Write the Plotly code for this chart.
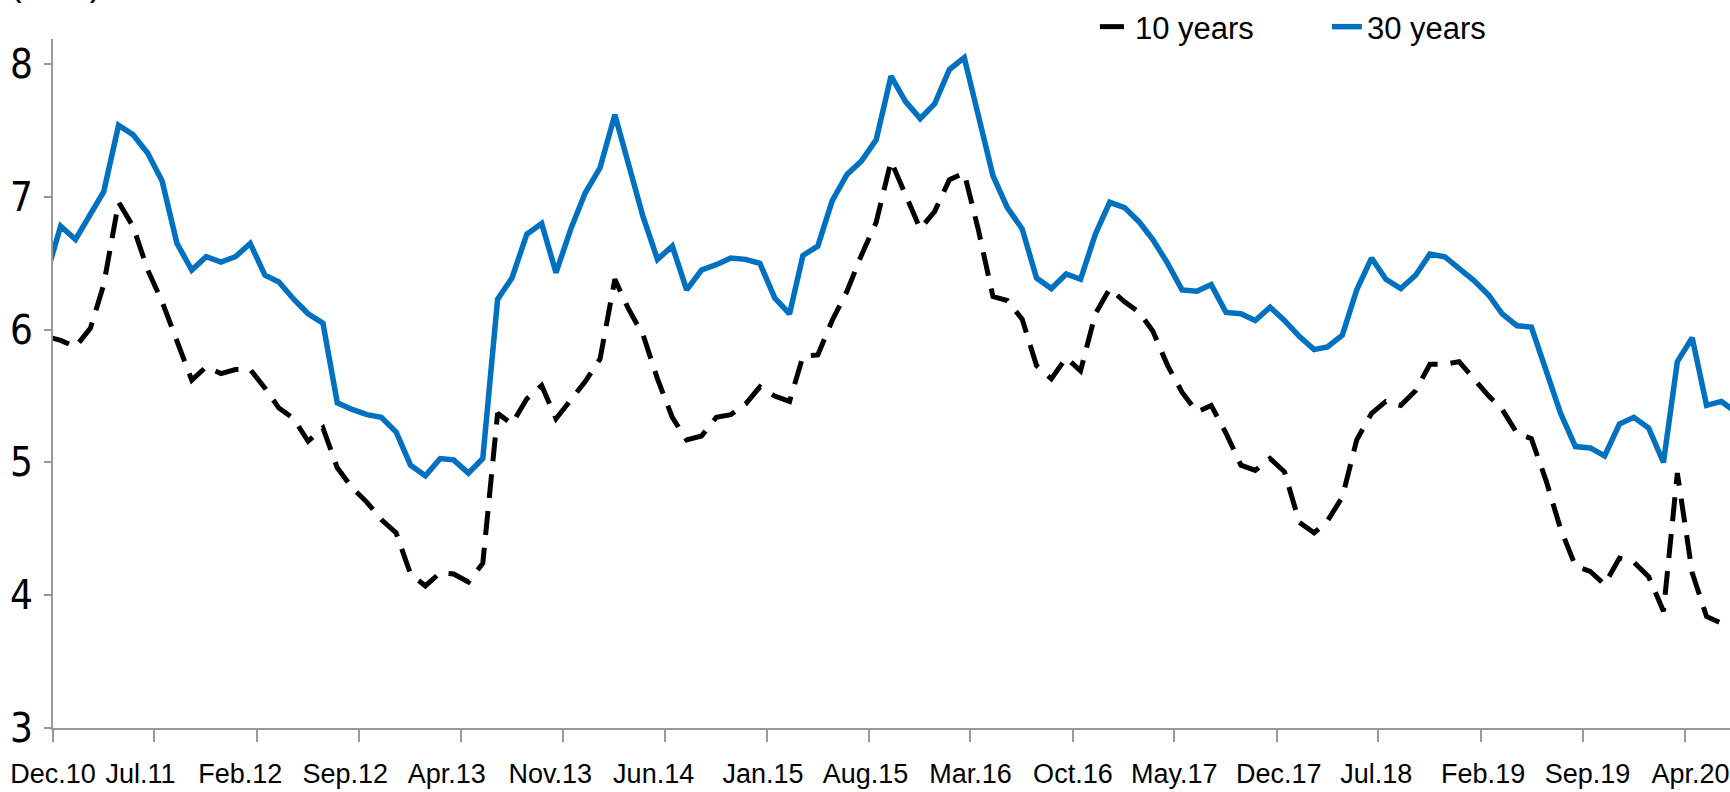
import pandas as pd
import plotly.graph_objects as go

# ---------------- data (monthly, Nov.10 .. Jul.20) ----------------
months = pd.date_range("2010-11-01", periods=117, freq="MS")

yield_10y = [
    5.95,
    5.92, 5.87, 6.01, 6.34, 6.96, 6.78, 6.45, 6.21, 5.91, 5.62,
    5.72, 5.67, 5.70, 5.70, 5.56, 5.41, 5.33, 5.16, 5.26, 4.96,
    4.81, 4.70, 4.57, 4.47, 4.16, 4.07, 4.17, 4.16, 4.10, 4.24,
    5.37, 5.29, 5.48, 5.58, 5.33, 5.47, 5.61, 5.78, 6.38, 6.16,
    5.96, 5.63, 5.34, 5.17, 5.20, 5.34, 5.36, 5.44, 5.57, 5.50,
    5.46, 5.80, 5.81, 6.07, 6.29, 6.56, 6.81, 7.27, 7.01, 6.76,
    6.89, 7.13, 7.18, 6.76, 6.25, 6.22, 6.08, 5.73, 5.63, 5.79,
    5.69, 6.12, 6.31, 6.21, 6.13, 5.99, 5.73, 5.53, 5.38, 5.43,
    5.22, 4.98, 4.94, 5.03, 4.93, 4.55, 4.47, 4.56, 4.74, 5.17,
    5.37, 5.46, 5.43, 5.54, 5.74, 5.74, 5.76, 5.63, 5.50, 5.40,
    5.22, 5.18, 4.86, 4.50, 4.22, 4.18, 4.08, 4.28, 4.25, 4.14,
    3.88, 4.92, 4.17, 3.84, 3.79, 3.76,
]

yield_30y = [
    6.41,
    6.78, 6.68, 6.86, 7.04, 7.54, 7.47, 7.33, 7.12, 6.65, 6.45,
    6.55, 6.51, 6.55, 6.65, 6.41, 6.36, 6.23, 6.12, 6.05, 5.45,
    5.40, 5.36, 5.34, 5.23, 4.98, 4.90, 5.03, 5.02, 4.92, 5.03,
    6.23, 6.39, 6.72, 6.80, 6.43, 6.76, 7.03, 7.22, 7.62, 7.27,
    6.85, 6.53, 6.63, 6.30, 6.45, 6.49, 6.54, 6.53, 6.50, 6.24,
    6.12, 6.56, 6.63, 6.97, 7.17, 7.27, 7.43, 7.91, 7.72, 7.59,
    7.70, 7.96, 8.05, 7.62, 7.16, 6.92, 6.76, 6.39, 6.31, 6.42,
    6.38, 6.72, 6.96, 6.92, 6.81, 6.68, 6.50, 6.30, 6.29, 6.34,
    6.13, 6.12, 6.07, 6.17, 6.07, 5.95, 5.85, 5.87, 5.96, 6.30,
    6.54, 6.38, 6.31, 6.41, 6.57, 6.55, 6.46, 6.37, 6.26, 6.12,
    6.03, 6.02, 5.69, 5.37, 5.12, 5.11, 5.05, 5.29, 5.34, 5.26,
    5.00, 5.76, 5.94, 5.43, 5.46, 5.38,
]

tick_labels = ["Dec.10", "Jul.11", "Feb.12", "Sep.12", "Apr.13", "Nov.13",
               "Jun.14", "Jan.15", "Aug.15", "Mar.16", "Oct.16", "May.17",
               "Dec.17", "Jul.18", "Feb.19", "Sep.19", "Apr.20"]
tick_dates = pd.date_range("2010-12-01", periods=len(tick_labels), freq="7MS")

y_ticks = [3, 4, 5, 6, 7, 8]

# ---------------- layout helpers ----------------
x_plot = months + pd.Timedelta(days=16)          # values plotted mid-month
x_range = ["2010-12-01", "2020-07-05"]
px_per_day = 1677 / (pd.Timestamp(x_range[1]) - pd.Timestamp(x_range[0])).days
label_shift_px = [0, -14, -17, -14, -14, -13, -11, -4, -3, 0, 0, 0, 2, -2, 2, 5, 6]
label_pos = [(d + pd.Timedelta(days=s / px_per_day)).strftime("%Y-%m-%d %H:%M")
             for d, s in zip(tick_dates, label_shift_px)]

FONT = "Liberation Sans, Arial, sans-serif"
NARROW = "Liberation Sans Narrow, Arial Narrow, DejaVu Sans Condensed, Liberation Sans, sans-serif"
AXIS_GREY = "#999999"

fig = go.Figure()
fig.add_trace(go.Scatter(
    x=x_plot, y=yield_10y, name="10 years", mode="lines",
    line=dict(color="#000000", width=5, dash="24px,13px"),
))
fig.add_trace(go.Scatter(
    x=x_plot, y=yield_30y, name="30 years", mode="lines",
    line=dict(color="#0070C0", width=5.5),
))
# invisible carrier so the label axis (x2) is rendered
fig.add_trace(go.Scatter(
    x=x_plot, y=yield_30y, xaxis="x2", yaxis="y", mode="lines",
    line=dict(width=0, color="rgba(0,0,0,0)"), showlegend=False, hoverinfo="skip",
))

fig.update_layout(
    width=1730, height=792,
    margin=dict(l=53, r=0, t=33, b=64),
    paper_bgcolor="white", plot_bgcolor="white",
    font=dict(family=FONT, color="#000000"),
    showlegend=True,
    legend=dict(
        orientation="h", x=0.6213, xanchor="left", y=1.018, yanchor="middle",
        font=dict(family=FONT, size=31, color="#000000"),
        entrywidth=187, entrywidthmode="pixels",
        bgcolor="rgba(0,0,0,0)", borderwidth=0,
    ),
    xaxis=dict(
        type="date", range=x_range, showgrid=False, zeroline=False,
        showline=True, linecolor=AXIS_GREY, linewidth=2,
        ticks="outside", ticklen=12, tickwidth=2, tickcolor=AXIS_GREY,
        tickmode="array", tickvals=list(tick_dates), showticklabels=False,
    ),
    xaxis2=dict(
        type="date", range=x_range, overlaying="x", anchor="y", side="bottom",
        showgrid=False, zeroline=False, showline=False, ticks="",
        tickmode="array", tickvals=label_pos, ticktext=tick_labels,
        showticklabels=True,
        tickfont=dict(family=FONT, size=27, color="#000000"),
        ticklabelstandoff=27,
    ),
    yaxis=dict(
        range=[3, 8.19], showgrid=False, zeroline=False,
        showline=True, linecolor=AXIS_GREY, linewidth=2,
        ticks="outside", ticklen=7, tickwidth=2, tickcolor=AXIS_GREY,
        tickmode="array", tickvals=y_ticks,
        tickfont=dict(family=NARROW, size=40, color="#000000"),
        ticklabelstandoff=3,
    ),
    annotations=[dict(
        text="(in %)", xref="paper", yref="paper", x=-0.027, xanchor="left",
        y=1.049, yanchor="bottom", showarrow=False,
        font=dict(family=FONT, size=35, color="#000000"),
    )],
)

fig.write_html("out.html")
